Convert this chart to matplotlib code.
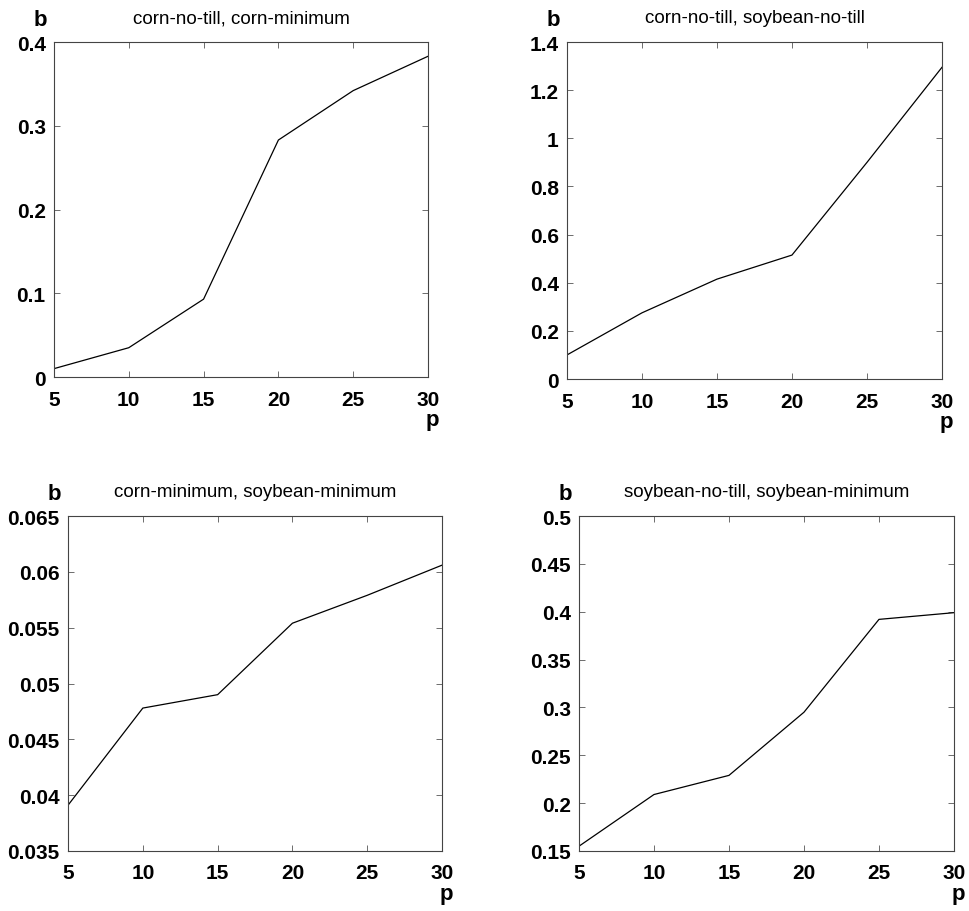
import matplotlib
matplotlib.use("Agg")
import matplotlib.pyplot as plt

plt.rcParams["font.family"] = ["Liberation Sans", "DejaVu Sans"]

# p values shared by all panels
p = [5, 10, 15, 20, 25, 30]

# b values
b_corn_notill_corn_min = [0.010, 0.035, 0.093, 0.283, 0.342, 0.383]
b_corn_notill_soy_notill = [0.10, 0.275, 0.415, 0.515, 0.90, 1.295]
b_corn_min_soy_min = [0.0391, 0.0478, 0.0490, 0.0554, 0.0579, 0.0606]
b_soy_notill_soy_min = [0.155, 0.209, 0.229, 0.295, 0.392, 0.399]

titles = ["corn-no-till, corn-minimum", "corn-no-till, soybean-no-till",
          "corn-minimum, soybean-minimum", "soybean-no-till, soybean-minimum"]
series = [b_corn_notill_corn_min, b_corn_notill_soy_notill,
          b_corn_min_soy_min, b_soy_notill_soy_min]
yticks = [[0, 0.1, 0.2, 0.3, 0.4],
          [0, 0.2, 0.4, 0.6, 0.8, 1, 1.2, 1.4],
          [0.035, 0.04, 0.045, 0.05, 0.055, 0.06, 0.065],
          [0.15, 0.2, 0.25, 0.3, 0.35, 0.4, 0.45, 0.5]]
xticks = [5, 10, 15, 20, 25, 30]

# axes boxes in figure fractions (left, bottom, width, height)
boxes = [(0.0557, 0.5855, 0.386, 0.3673),
         (0.5851, 0.5833, 0.387, 0.3695),
         (0.0702, 0.0658, 0.386, 0.3673),
         (0.5975, 0.0658, 0.387, 0.3673)]

fig = plt.figure(figsize=(9.69, 9.12), dpi=100)

for box, y, title, yt in zip(boxes, series, titles, yticks):
    ax = fig.add_axes(box)
    ax.plot(p, y, color="black", linewidth=0.9)
    ax.set_xlim(5, 30)
    ax.set_ylim(yt[0], yt[-1])
    ax.set_xticks(xticks)
    ax.set_yticks(yt)
    ax.set_yticklabels([f"{v:g}" for v in yt])
    ax.tick_params(direction="in", top=True, right=True, length=4,
                   width=0.6, color="#555555", labelsize=15)
    ax.tick_params(axis="x", pad=9)
    ax.tick_params(axis="y", pad=6)
    for lab in ax.get_xticklabels() + ax.get_yticklabels():
        lab.set_fontweight("bold")
    for s in ax.spines.values():
        s.set_color("#444444")
        s.set_linewidth(0.8)
    ax.text(0.5, 1.072, title, transform=ax.transAxes, ha="center",
            va="center", fontsize=13.5)
    ax.text(-0.037, 1.068, "b", transform=ax.transAxes, ha="center",
            va="center", fontsize=16, fontweight="bold")
    ax.text(1.012, -0.143, "p", transform=ax.transAxes, ha="center",
            va="baseline", fontsize=16, fontweight="bold")

fig.savefig("out.png", dpi=100)
